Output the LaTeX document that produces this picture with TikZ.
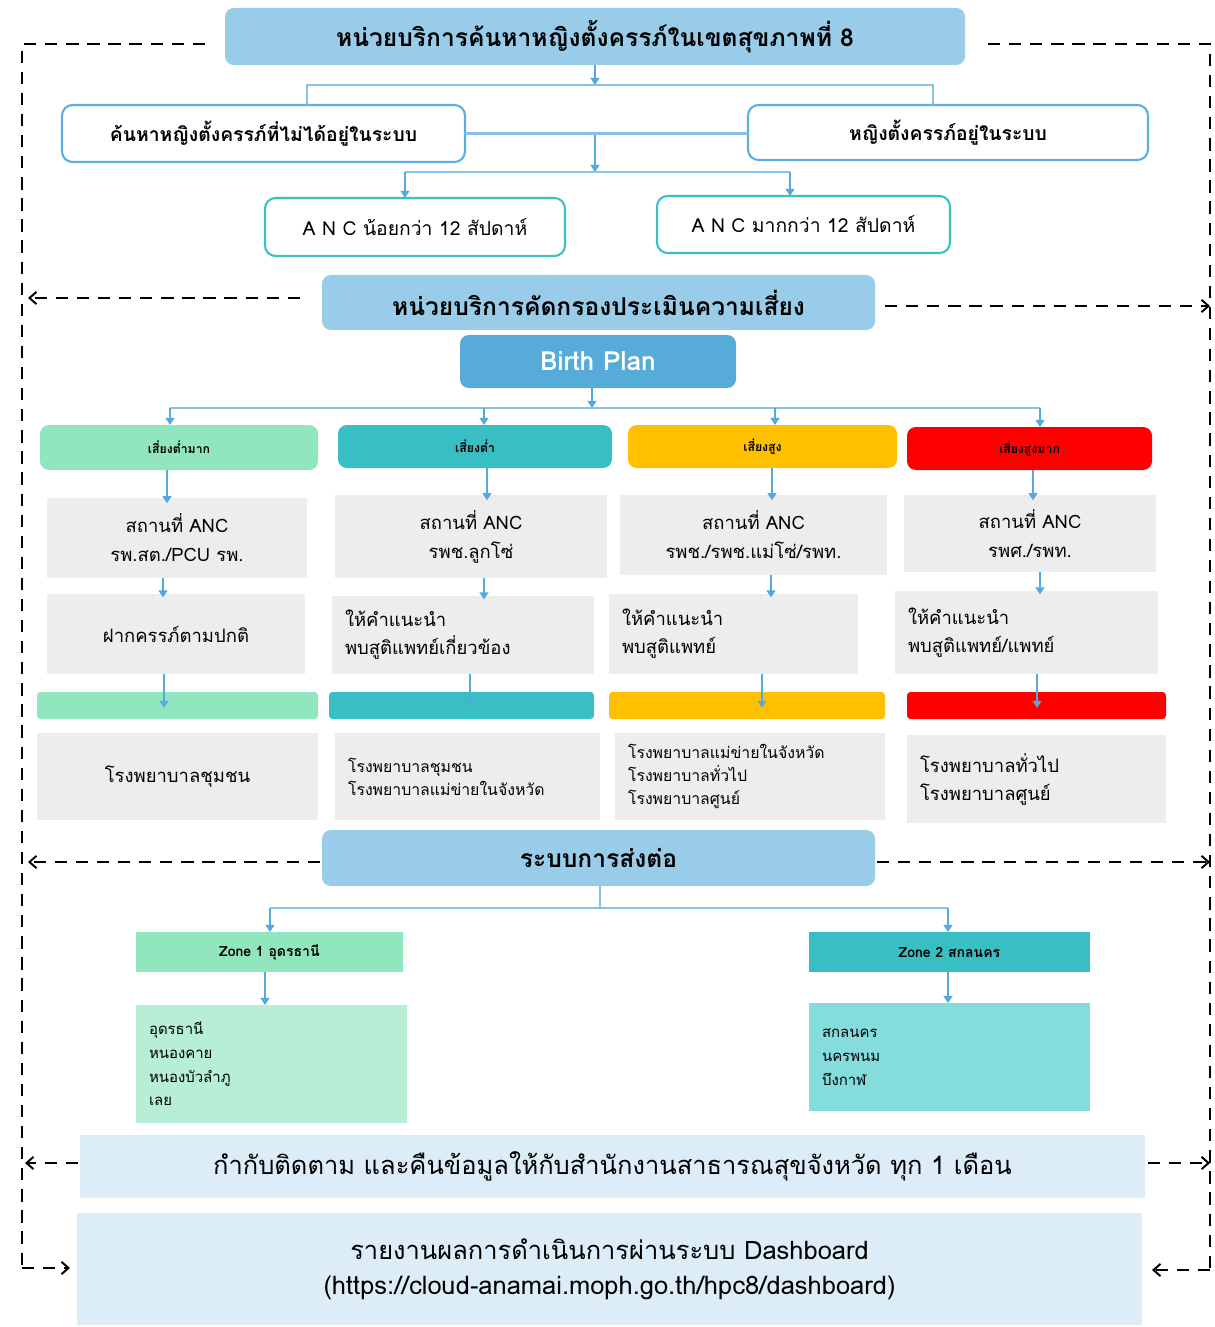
\documentclass[tikz,border=0pt]{standalone}
\usepackage{fontspec}
\setmainfont{Loma}[Script=Thai]
\usetikzlibrary{arrows.meta}
\definecolor{lb}{HTML}{98CCE9}
\definecolor{bpc}{HTML}{56ABD9}
\definecolor{arc}{HTML}{55AADD}
\definecolor{wbd}{HTML}{5BAEDD}
\definecolor{abd}{HTML}{3DC0C4}
\definecolor{mint}{HTML}{92E6BF}
\definecolor{teal}{HTML}{37BFC3}
\definecolor{gold}{HTML}{FFC000}
\definecolor{rred}{HTML}{FF0000}
\definecolor{gry}{HTML}{EDEDED}
\definecolor{lmint}{HTML}{B6EFD6}
\definecolor{lteal}{HTML}{85DCDD}
\definecolor{pale}{HTML}{DDEDF7}
\newcommand\pbox[7]{\node[#2, minimum width={(#5-#3)*0.02cm}, minimum height={(#6-#4)*0.02cm}] (#1) at ({(#3+#5)/2},{(#4+#6)/2}) {#7};}
\tikzset{
  base/.style={inner sep=0pt, outer sep=0pt, align=center},
  hdr/.style={base, fill=lb, rounded corners=5pt, font=\fontsize{14}{16}\selectfont\bfseries},
  wbox/.style={base, draw=wbd, line width=1.2pt, fill=white, rounded corners=6pt, font=\fontsize{11}{13}\selectfont\bfseries},
  abox/.style={base, draw=abd, line width=1.2pt, fill=white, rounded corners=6pt, font=\fontsize{11}{13}\selectfont},
  bp/.style={base, fill=bpc, rounded corners=5pt, text=white, font=\fontsize{15}{17}\selectfont\bfseries},
  rh/.style={base, fill=#1, rounded corners=5pt, font=\fontsize{7}{8}\selectfont\bfseries},
  bar/.style={base, fill=#1, rounded corners=2pt},
  gbox/.style={base, fill=gry, font=\fontsize{10.5}{16.5}\selectfont},
  glbox/.style={base, fill=gry, align=left, inner xsep=0.26cm, text width=#1, font=\fontsize{10.5}{16}\selectfont},
  gsbox/.style={base, fill=gry, align=left, inner xsep=0.26cm, text width=#1, font=\fontsize{9}{13}\selectfont},
  zbox/.style={base, fill=#1, font=\fontsize{8}{9}\selectfont\bfseries},
  lbox/.style={base, fill=#1, align=left, inner xsep=0.26cm, font=\fontsize{8.5}{13.5}\selectfont},
  pbx/.style={base, fill=pale, font=\fontsize{14.5}{20}\selectfont},
  ln/.style={draw=arc!70, line width=1.3pt},
  arr/.style={draw=arc, line width=1.3pt, -{Triangle[width=5pt,length=4pt]}},
  dsh/.style={draw=black, line width=1.1pt, dash pattern=on 7pt off 5pt},
  dtip/.style={-{Straight Barb[length=4pt,width=7pt]}}
}
\begin{document}
\begin{tikzpicture}[x=0.02cm,y=-0.02cm]
\useasboundingbox (0,0) rectangle (1214,1327);
% dashed frame
\coordinate (TL) at (205,44);
\coordinate (TR) at (988,44);
\coordinate (FL) at (22,44);
\coordinate (FR) at (1210,44);
\coordinate (FLB) at (22,1268);
\coordinate (FRB) at (1210,1270);
\coordinate (DL) at (70,1268);
\coordinate (DR) at (1152,1270);
\draw[dsh] (TL) -- (FL) -- (FLB);
\draw[dsh] (TR) -- (FR) -- (FRB);
\draw[dsh,dtip] (FLB) -- (DL);
\draw[dsh,dtip] (FRB) -- (DR);
% top
\pbox{title}{hdr}{225}{8}{965}{65}{หน่วยบริการค้นหาหญิงตั้งครรภ์ในเขตสุขภาพที่ 8}
\pbox{find}{wbox}{62}{105}{465}{162}{ค้นหาหญิงตั้งครรภ์ที่ไม่ได้อยู่ในระบบ}
\pbox{insys}{wbox}{748}{105}{1148}{160}{หญิงตั้งครรภ์อยู่ในระบบ}
\pbox{ancl}{abox}{265}{198}{565}{256}{A N C น้อยกว่า 12 สัปดาห์}
\pbox{ancm}{abox}{657}{196}{950}{253}{A N C มากกว่า 12 สัปดาห์}
\coordinate (j0) at (595,85);
\coordinate (jl) at (307,85);
\coordinate (jr) at (933,85);
\draw[arr] (title.south) -- (j0);
\draw[ln] (find.north -| jl) -- (jl) -- (jr) -- (insys.north -| jr);
\draw[ln] (find.east) -- (insys.west |- find.east);
\coordinate (m0) at (595,135);
\coordinate (m1) at (595,172);
\coordinate (ml) at (405,172);
\coordinate (mr) at (790,172);
\draw[arr] (m0) -- (m1);
\draw[ln] (ml) -- (mr);
\draw[arr] (ml) -- (ancl.north -| ml);
\draw[arr] (mr) -- (ancm.north -| mr);
% screening
\pbox{screen}{hdr}{322}{275}{875}{330}{หน่วยบริการคัดกรองประเมินความเสี่ยง}
\pbox{birth}{bp}{460}{335}{736}{388}{Birth Plan}
\coordinate (SL) at (300,298);
\coordinate (SLe) at (28,298);
\coordinate (SR) at (885,306);
\coordinate (SRe) at (1210,306);
\draw[dsh,dtip] (SL) -- (SLe);
\draw[dsh,dtip] (SR) -- (SRe);
\coordinate (r0) at (592,408);
\coordinate (r1) at (170,408);
\coordinate (r2) at (484,408);
\coordinate (r3) at (775,408);
\coordinate (r4) at (1040,408);
\draw[arr] (birth.south -| r0) -- (r0);
\draw[ln] (r1) -- (r4);
% risk headers
\pbox{h1}{rh=mint}{40}{425}{318}{470}{เสี่ยงต่ำมาก}
\pbox{h2}{rh=teal}{338}{425}{612}{468}{เสี่ยงต่ำ}
\pbox{h3}{rh=gold}{628}{425}{897}{468}{เสี่ยงสูง}
\pbox{h4}{rh=rred}{907}{427}{1152}{470}{เสี่ยงสูงมาก}
\draw[arr] (r1) -- (h1.north -| r1);
\draw[arr] (r2) -- (h2.north -| r2);
\draw[arr] (r3) -- (h3.north -| r3);
\draw[arr] (r4) -- (h4.north -| r4);
% row 1
\pbox{a1}{gbox}{47}{498}{307}{578}{สถานที่ ANC\\ รพ.สต./PCU รพ.}
\pbox{a2}{gbox}{335}{495}{607}{578}{สถานที่ ANC\\ รพช.ลูกโซ่}
\pbox{a3}{gbox}{620}{495}{887}{575}{สถานที่ ANC\\ รพช./รพช.แม่โซ่/รพท.}
\pbox{a4}{gbox}{904}{495}{1156}{572}{สถานที่ ANC\\ รพศ./รพท.}
\coordinate (x1) at (167,0); \coordinate (x2) at (487,0); \coordinate (x3) at (772,0); \coordinate (x4) at (1033,0);
\draw[arr] (h1.south -| x1) -- ([yshift=-3pt]a1.north -| x1);
\draw[arr] (h2.south -| x2) -- ([yshift=-3pt]a2.north -| x2);
\draw[arr] (h3.south -| x3) -- ([yshift=-3pt]a3.north -| x3);
\draw[arr] (h4.south -| x4) -- ([yshift=-3pt]a4.north -| x4);
% row 2
\pbox{b1}{gbox}{47}{594}{305}{674}{ฝากครรภ์ตามปกติ}
\pbox{b2}{glbox=4.72cm}{332}{596}{594}{674}{ให้คำแนะนำ\\ พบสูติแพทย์เกี่ยวข้อง}
\pbox{b3}{glbox=4.46cm}{610}{594}{857}{674}{ให้คำแนะนำ\\ พบสูติแพทย์}
\pbox{b4}{glbox=4.74cm}{895}{591}{1158}{674}{ให้คำแนะนำ\\ พบสูติแพทย์/แพทย์}
\coordinate (y1) at (163,0); \coordinate (y2) at (484,0); \coordinate (y3) at (771,0); \coordinate (y4) at (1040,0);
\draw[arr] (a1.south -| y1) -- ([yshift=-2pt]b1.north -| y1);
\draw[arr] (a2.south -| y2) -- ([yshift=-2pt]b2.north -| y2);
\draw[arr] (a3.south -| y3) -- ([yshift=-2pt]b3.north -| y3);
\draw[arr] (a4.south -| y4) -- ([yshift=-2pt]b4.north -| y4);
% row 3 bars
\pbox{c1}{bar=mint}{37}{692}{318}{719}{}
\pbox{c2}{bar=teal}{329}{692}{594}{719}{}
\pbox{c3}{bar=gold}{609}{692}{885}{719}{}
\pbox{c4}{bar=rred}{907}{692}{1166}{719}{}
\coordinate (z1) at (164,0); \coordinate (z2) at (470,0); \coordinate (z3) at (762,0); \coordinate (z4) at (1037,0);
\draw[arr] (b1.south -| z1) -- ([yshift=-9pt]c1.north -| z1);
\draw[arr] (b2.south -| z2) -- ([yshift=-9pt]c2.north -| z2);
\draw[arr] (b3.south -| z3) -- ([yshift=-9pt]c3.north -| z3);
\draw[arr] (b4.south -| z4) -- ([yshift=-9pt]c4.north -| z4);
% row 4
\pbox{d1}{gbox}{37}{733}{318}{820}{โรงพยาบาลชุมชน}
\pbox{d2}{gsbox=4.78cm}{335}{733}{600}{820}{โรงพยาบาลชุมชน\\ โรงพยาบาลแม่ข่ายในจังหวัด}
\pbox{d3}{gsbox=4.88cm}{615}{733}{885}{820}{โรงพยาบาลแม่ข่ายในจังหวัด\\ โรงพยาบาลทั่วไป\\ โรงพยาบาลศูนย์}
\pbox{d4}{glbox=4.66cm}{907}{735}{1166}{823}{โรงพยาบาลทั่วไป\\ โรงพยาบาลศูนย์}
% referral
\pbox{ref}{hdr}{322}{830}{875}{886}{ระบบการส่งต่อ}
\coordinate (RL) at (320,862);
\coordinate (RLe) at (28,862);
\coordinate (RR) at (877,862);
\coordinate (RRe) at (1210,862);
\draw[dsh,dtip] (RL) -- (RLe);
\draw[dsh,dtip] (RR) -- (RRe);
\coordinate (q0) at (600,908);
\coordinate (q1) at (270,908);
\coordinate (q2) at (948,908);
\draw[ln] (ref.south -| q0) -- (q0);
\draw[ln] (q1) -- (q2);
\pbox{zn1}{zbox=mint}{136}{932}{403}{972}{Zone 1 อุดรธานี}
\pbox{zn2}{zbox=teal}{809}{932}{1090}{972}{Zone 2 สกลนคร}
\draw[arr] (q1) -- (zn1.north -| q1);
\draw[arr] (q2) -- (zn2.north -| q2);
\pbox{l1}{lbox=lmint, text width=4.9cm}{136}{1005}{407}{1123}{อุดรธานี\\ หนองคาย\\ หนองบัวลำภู\\ เลย}
\pbox{l2}{lbox=lteal, text width=5.1cm}{809}{1003}{1090}{1111}{สกลนคร\\ นครพนม\\ บึงกาฬ}
\coordinate (w1) at (265,0); \coordinate (w2) at (948,0);
\draw[arr] (zn1.south -| w1) -- (l1.north -| w1);
\draw[arr] (zn2.south -| w2) -- (l2.north -| w2);
% bottom
\pbox{mon}{pbx}{80}{1135}{1145}{1198}{กำกับติดตาม และคืนข้อมูลให้กับสำนักงานสาธารณสุขจังหวัด ทุก 1 เดือน}
\pbox{dboard}{pbx}{77}{1213}{1142}{1325}{รายงานผลการดำเนินการผ่านระบบ Dashboard\\ (https://cloud-anamai.moph.go.th/hpc8/dashboard)}
\coordinate (ML) at (78,1163);
\coordinate (MLe) at (25,1163);
\coordinate (MR) at (1148,1163);
\coordinate (MRe) at (1210,1163);
\draw[dsh,dtip] (ML) -- (MLe);
\draw[dsh,dtip] (MR) -- (MRe);
\end{tikzpicture}
\end{document}
